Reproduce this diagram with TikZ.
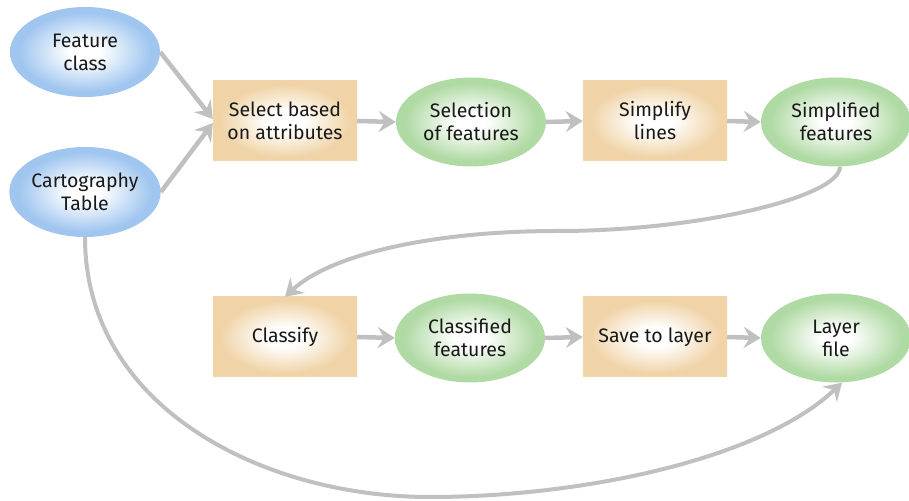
\documentclass[tikz,border=0pt]{standalone}
\usepackage{fontspec}
\setmainfont{Fira Sans}
\usetikzlibrary{arrows.meta,shapes.geometric}

\definecolor{blueedge}{RGB}{160,198,240}
\definecolor{greenedge}{RGB}{176,218,164}
\definecolor{tanedge}{RGB}{240,211,166}
\definecolor{flowgray}{RGB}{192,192,192}
\definecolor{labeltext}{RGB}{25,25,25}

% soft radial fills: white core fading to the edge colour
\pgfdeclareradialshading{bluefade}{\pgfpoint{0bp}{0bp}}{color(0bp)=(white); color(5bp)=(white); color(22bp)=(blueedge); color(25bp)=(blueedge); color(50bp)=(blueedge)}
\pgfdeclareradialshading{greenfade}{\pgfpoint{0bp}{0bp}}{color(0bp)=(white); color(5bp)=(white); color(22bp)=(greenedge); color(25bp)=(greenedge); color(50bp)=(greenedge)}
\pgfdeclareradialshading{tanfade}{\pgfpoint{0bp}{0bp}}{color(0bp)=(white); color(6bp)=(white); color(23bp)=(tanedge); color(27bp)=(tanedge); color(50bp)=(tanedge)}

\tikzset{
  lbl/.style={text=labeltext, font=\fontsize{19.5}{23}\selectfont, align=center},
  inputdata/.style={lbl, ellipse, shading=bluefade, minimum width=150pt, minimum height=90pt, inner sep=0pt},
  outdata/.style={lbl, ellipse, shading=greenfade, minimum width=150pt, minimum height=89pt, inner sep=0pt},
  tool/.style={lbl, rectangle, shading=tanfade, minimum width=144pt, minimum height=80pt, inner sep=0pt},
  flow/.style={draw=flowgray, line width=4.5pt, -{Stealth[length=17pt, width=21pt, inset=6pt]}},
  curveflow/.style={draw=flowgray, line width=4pt, -{Stealth[length=17pt, width=21pt, inset=6pt]}}
}

\begin{document}
\begin{tikzpicture}[x=1pt, y=1pt]
  \useasboundingbox (0,0) rectangle (909,500);

  % inputs
  \node[inputdata] (fc) at (85,448) {Feature\\class};
  \node[inputdata] (ct) at (85,308) {Cartography\\Table};

  % first row
  \node[tool]    (sel)  at (285,379) {Select based\\on attributes};
  \node[outdata] (sof)  at (471,378) {Selection\\of features};
  \node[tool]    (simp) at (655,379) {Simplify\\lines};
  \node[outdata] (sf)   at (836,378) {Simplified\\features};

  % second row
  \node[tool]    (cls)  at (285,163) {Classify};
  \node[outdata] (cf)   at (470,162) {Classified\\features};
  \node[tool]    (save) at (655,163) {Save to layer};
  \node[outdata] (lf)   at (836,162) {Layer\\file};

  % straight connectors
  \draw[flow] (fc.east) -- ([yshift=2pt]sel.west);
  \draw[flow] (ct.east) -- ([yshift=-2pt]sel.west);
  \draw[flow] (sel.east) -- (sof.west);
  \draw[flow] (sof.east) -- (simp.west);
  \draw[flow] (simp.east) -- (sf.west);
  \draw[flow] (cls.east) -- (cf.west);
  \draw[flow] (cf.east) -- (save.west);
  \draw[flow] (save.east) -- (lf.west);

  % row change
  \coordinate (midbend) at (558,269);
  \draw[curveflow] ([xshift=4pt]sf.south) .. controls +(0,-30) and (700,269) .. (midbend)
                   .. controls (430,269) and (330,245) .. (cls.north);

  % long return to the layer file
  \coordinate (lowpoint) at (430,3);
  \draw[curveflow] (ct.south) .. controls (85,94) and (261,3) .. (lowpoint)
                   .. controls (580,3) and (760,40) .. ([xshift=6pt]lf.south);
\end{tikzpicture}
\end{document}
